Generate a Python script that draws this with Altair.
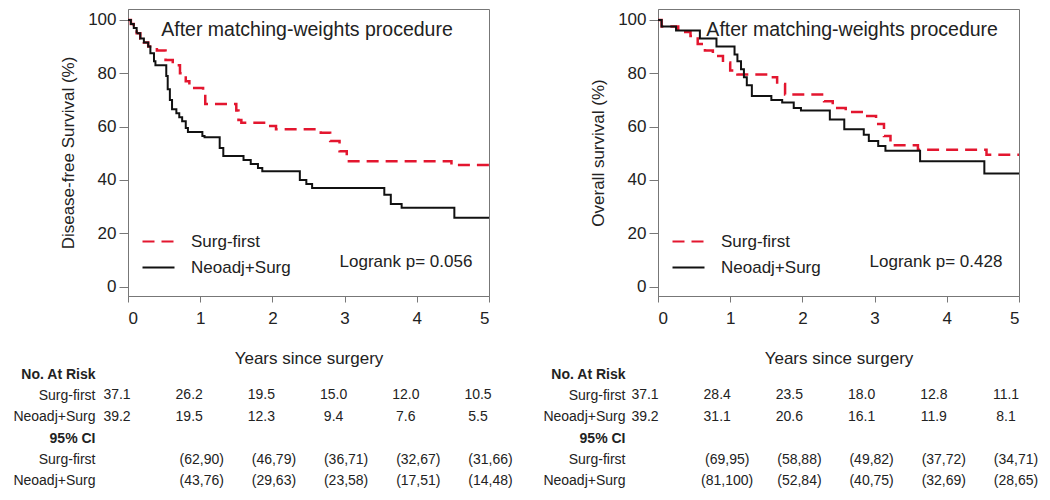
import altair as alt
import pandas as pd

# ---------------- data ----------------
years = [0, 1, 2, 3, 4, 5]
groups = ["Surg-first", "Neoadj+Surg"]
y_ticks = [0, 20, 40, 60, 80, 100]

# Disease-free survival (left panel)
dfs_surg_t = [0, 0.04, 0.08, 0.12, 0.17, 0.22, 0.28, 0.40, 0.52, 0.62, 0.72, 0.80, 0.85,
              1.04, 1.07, 1.50, 1.53, 1.57, 1.97, 2.05, 2.67, 2.80, 2.93, 3.03, 4.48, 5]
dfs_surg_s = [100, 98.5, 97, 95, 93, 91.5, 90, 88.5, 85, 83, 80, 77, 74.5,
              73, 68.5, 66, 62.5, 61.5, 60.2, 59, 57.7, 54.6, 50.8, 47, 45.6, 45.6]
dfs_neo_t = [0, 0.04, 0.08, 0.12, 0.17, 0.22, 0.28, 0.31, 0.36, 0.38, 0.53, 0.55, 0.58, 0.61,
             0.67, 0.71, 0.75, 0.80, 0.83, 1.03, 1.06, 1.27, 1.32, 1.60, 1.70, 1.80, 1.86,
             2.38, 2.47, 2.55, 3.55, 3.64, 3.79, 4.52, 5]
dfs_neo_s = [100, 98.5, 97, 95, 93, 91.5, 90, 87.5, 84.5, 83, 79, 74, 70, 66.5,
             65, 63.5, 62, 59.5, 58, 56.5, 56, 52, 49, 47.5, 46, 44.5, 43.3,
             40, 38.5, 37, 34.5, 31, 29.6, 25.8, 25.8]

# Overall survival (right panel)
os_surg_t = [0, 0.05, 0.28, 0.45, 0.55, 0.65, 0.76, 0.90, 1.00, 1.10, 1.55, 1.65, 1.76,
             2.30, 2.42, 2.60, 2.85, 3.02, 3.13, 3.22, 3.60, 4.55, 5]
os_surg_s = [100, 97.5, 95.5, 94, 91, 88.5, 86.5, 84, 81, 79.5, 78.5, 76, 72,
             69.5, 67, 65.5, 64, 61, 56.5, 53, 51.3, 49.5, 49.5]
os_neo_t = [0, 0.05, 0.25, 0.58, 0.81, 1.06, 1.10, 1.15, 1.19, 1.23, 1.30, 1.57, 1.72,
            1.88, 1.98, 2.38, 2.58, 2.85, 2.92, 3.05, 3.15, 3.63, 4.52, 5]
os_neo_s = [100, 97.5, 96, 93, 90, 87, 84.5, 81.5, 78.5, 75.5, 71.5, 70, 69,
            67, 66, 62.7, 59, 57, 54.6, 52.7, 51, 47, 42.4, 42.4]

# Risk tables
row_keys = ["r0", "r1", "r2", "r3", "r4", "r5"]
row_labels = ["No. At Risk", "Surg-first", "Neoadj+Surg", "95% CI", "Surg-first", "Neoadj+Surg"]

dfs_risk_surg = ["37.1", "26.2", "19.5", "15.0", "12.0", "10.5"]
dfs_risk_neo = ["39.2", "19.5", "12.3", "9.4", "7.6", "5.5"]
dfs_ci_surg = ["", "(62,90)", "(46,79)", "(36,71)", "(32,67)", "(31,66)"]
dfs_ci_neo = ["", "(43,76)", "(29,63)", "(23,58)", "(17,51)", "(14,48)"]

os_risk_surg = ["37.1", "28.4", "23.5", "18.0", "12.8", "11.1"]
os_risk_neo = ["39.2", "31.1", "20.6", "16.1", "11.9", "8.1"]
os_ci_surg = ["", "(69,95)", "(58,88)", "(49,82)", "(37,72)", "(34,71)"]
os_ci_neo = ["", "(81,100)", "(52,84)", "(40,75)", "(32,69)", "(28,65)"]

annot_title = "After matching-weights procedure"
dfs_p = "Logrank p= 0.056"
os_p = "Logrank p= 0.428"

# ---------------- styling ----------------
FONT = "Liberation Sans"
TXT = "#222222"
GRAY = "#777777"
RED = "#e3162f"

color_scale = alt.Scale(domain=groups, range=[RED, "#111111"])
dash_scale = alt.Scale(domain=groups, range=[[12, 7], [1, 0]])
x_scale = alt.Scale(domain=[0, 5], nice=False, zero=False)
y_scale = alt.Scale(domain=[-3.5, 104.1], nice=False, zero=False)

W, H = 361, 287


def make_legend():
    return alt.Legend(title=None, orient="none", legendX=13, legendY=215,
                      symbolType="stroke", symbolSize=1024, symbolStrokeWidth=2.2,
                      labelFontSize=17, labelOffset=15, rowPadding=-17, padding=0,
                      labelColor=TXT, labelFont=FONT)


def km_panel(s_t, s_s, n_t, n_s, ytitle, ptext, title_t):
    df_s = pd.DataFrame({"t": s_t, "s": s_s, "group": groups[0]})
    df_n = pd.DataFrame({"t": n_t, "s": n_s, "group": groups[1]})
    xaxis = alt.Axis(values=years, format="d", title="Years since surgery", grid=False,
                     tickSize=6, labelPadding=8, labelFontSize=17, titleFontSize=17,
                     titleFontWeight="normal", titlePadding=24, domainColor=GRAY,
                     tickColor=GRAY, labelColor=TXT, titleColor=TXT)
    yaxis = alt.Axis(values=y_ticks, title=ytitle, grid=False, tickSize=9, labelPadding=3,
                     labelFontSize=17, titleFontSize=17, titleFontWeight="normal",
                     titlePadding=10, domainColor=GRAY, tickColor=GRAY,
                     labelColor=TXT, titleColor=TXT)

    def line(df, sw):
        return alt.Chart(df).mark_line(interpolate="step-after", strokeWidth=sw).encode(
            x=alt.X("t:Q", scale=x_scale, axis=xaxis),
            y=alt.Y("s:Q", scale=y_scale, axis=yaxis),
            color=alt.Color("group:N", scale=color_scale, legend=make_legend()),
            strokeDash=alt.StrokeDash("group:N", scale=dash_scale, legend=make_legend()),
        )

    ann = pd.DataFrame({"t": [title_t, 2.93], "s": [96.2, 9.2],
                        "txt": [annot_title, ptext]})
    title_layer = alt.Chart(ann.iloc[[0]]).mark_text(
        align="left", baseline="middle", fontSize=19.5, color=TXT, font=FONT
    ).encode(x="t:Q", y="s:Q", text="txt:N")
    p_layer = alt.Chart(ann.iloc[[1]]).mark_text(
        align="left", baseline="middle", fontSize=17, color=TXT, font=FONT
    ).encode(x="t:Q", y="s:Q", text="txt:N")

    return alt.layer(line(df_s, 2.5), line(df_n, 2.0), title_layer, p_layer).properties(
        width=W, height=H, view=alt.ViewBackground(stroke=GRAY, strokeWidth=1)
    )


label_expr = " : ".join(
    f"datum.value == '{k}' ? '{l}'" for k, l in zip(row_keys, row_labels)
) + " : ''"


def table_panel(rs, rn, cs, cn, dx_risk, dx_ci):
    risk = pd.DataFrame({
        "t": years + years,
        "row": ["r1"] * 6 + ["r2"] * 6,
        "label": rs + rn,
    })
    ci = pd.DataFrame({
        "t": years + years,
        "row": ["r4"] * 6 + ["r5"] * 6,
        "label": cs + cn,
    })
    yenc = alt.Y("row:N", scale=alt.Scale(domain=row_keys, type="point", padding=0.33),
                 axis=alt.Axis(title=None, domain=False, ticks=False, labelPadding=33,
                               labelFontSize=14, labelColor=TXT, labelExpr=label_expr,
                               labelFontWeight={"expr": "datum.value == 'r0' || datum.value == 'r3' ? 'bold' : 'normal'"}))
    xenc = alt.X("t:Q", scale=alt.Scale(domain=[0, 5], nice=False, zero=False), axis=None)
    l1 = alt.Chart(risk).mark_text(fontSize=14, color=TXT, dx=dx_risk, font=FONT).encode(
        x=xenc, y=yenc, text="label:N")
    l2 = alt.Chart(ci).mark_text(fontSize=14, color=TXT, dx=dx_ci, font=FONT).encode(
        x=xenc, y=yenc, text="label:N")
    return alt.layer(l1, l2).properties(
        width=W, height=121, view=alt.ViewBackground(strokeOpacity=0)
    )


left = alt.vconcat(
    km_panel(dfs_surg_t, dfs_surg_s, dfs_neo_t, dfs_neo_s, "Disease-free Survival (%)", dfs_p, 0.46),
    table_panel(dfs_risk_surg, dfs_risk_neo, dfs_ci_surg, dfs_ci_neo, -11, 1.5),
    spacing=0,
)
right = alt.vconcat(
    km_panel(os_surg_t, os_surg_s, os_neo_t, os_neo_s, "Overall survival (%)", os_p, 0.67),
    table_panel(os_risk_surg, os_risk_neo, os_ci_surg, os_ci_neo, -13, -3),
    spacing=0,
)

chart = alt.hconcat(left, right, spacing=29).resolve_scale(
    color="independent", strokeDash="independent"
).properties(
    padding={"left": 4, "top": 0, "right": 2, "bottom": 2}
).configure(font=FONT, background="white")

chart.save("out.html", embed_options={"renderer": "svg", "actions": False})
